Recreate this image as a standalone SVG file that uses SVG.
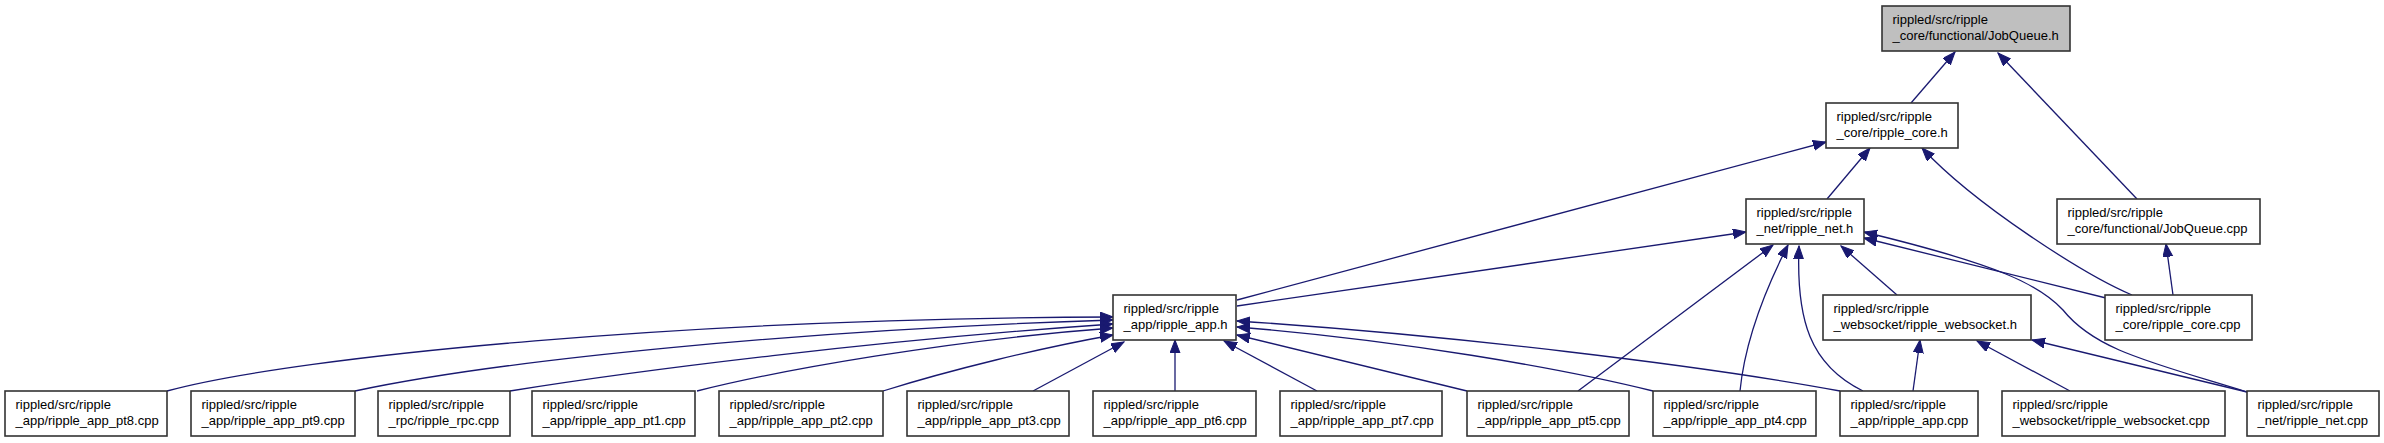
<svg xmlns="http://www.w3.org/2000/svg" width="2384" height="443" viewBox="0 0 2384 443">
<style>
rect.box{fill:#ffffff;stroke:#333333;stroke-width:1.6}
rect.hl{fill:#bfbfbf;stroke:#333333;stroke-width:1.6}
text{font-family:"Liberation Sans",Arial,Helvetica,sans-serif;font-size:13px;fill:#000}
.edges path{fill:none;stroke:#191970;stroke-width:1.3;marker-end:url(#ah)}
</style>
<defs>
<marker id="ah" markerUnits="userSpaceOnUse" markerWidth="14" markerHeight="11" refX="13" refY="5" orient="auto">
<path d="M0,0 L13,5 L0,10 z" fill="#191970" stroke="#191970" stroke-width="1"/>
</marker>
</defs>
<rect width="2384" height="443" fill="#ffffff"/>
<g class="edges" id="edges">
<path d="M1911,103 L1955,52"/>
<path d="M2137,199 L1998,53"/>
<path d="M1237,300 L1826,142"/>
<path d="M1827,199 L1870,148"/>
<path d="M2132,295 C2085,275 1975,205 1922,148"/>
<path d="M1237,306 L1746,232"/>
<path d="M1578,391 L1773,245"/>
<path d="M1740,391 C1745,340 1765,290 1788,245"/>
<path d="M1863,391 C1810,365 1796,320 1799,246"/>
<path d="M1897,295 L1841,246"/>
<path d="M2106,298 L1864,238"/>
<path d="M2247,392 C2150,362 2095,350 2063,310 C2040,285 2000,265 1864,232"/>
<path d="M2173,295 L2166,244"/>
<path d="M1913,391 L1920,340"/>
<path d="M2070,391 L1977,341"/>
<path d="M2247,392 L2032,340"/>
<path d="M167,391 C300,355 700,318 1113,317"/>
<path d="M355,391 C500,360 800,330 1113,320"/>
<path d="M510,391 C640,370 880,340 1113,324"/>
<path d="M697,391 C780,370 950,340 1113,328"/>
<path d="M883,391 C950,370 1040,348 1113,335"/>
<path d="M1033,391 L1124,342"/>
<path d="M1175,391 L1175,340"/>
<path d="M1317,391 L1224,341"/>
<path d="M1467,391 L1237,335"/>
<path d="M1653,391 C1560,368 1400,340 1237,327"/>
<path d="M1840,391 C1700,365 1450,335 1237,321"/>
</g>
<g id="n_jobqueue_h"><rect class="hl" x="1882" y="6" width="188" height="45"/><text x="1892.5" y="23.5">rippled/src/ripple</text><text x="1892.5" y="40">_core/functional/JobQueue.h</text></g>
<g id="n_ripple_core_h"><rect class="box" x="1826" y="103" width="132" height="45"/><text x="1836.5" y="120.5">rippled/src/ripple</text><text x="1836.5" y="137">_core/ripple_core.h</text></g>
<g id="n_ripple_net_h"><rect class="box" x="1746" y="199" width="118" height="45"/><text x="1756.5" y="216.5">rippled/src/ripple</text><text x="1756.5" y="233">_net/ripple_net.h</text></g>
<g id="n_jobqueue_cpp"><rect class="box" x="2057" y="199" width="203" height="45"/><text x="2067.5" y="216.5">rippled/src/ripple</text><text x="2067.5" y="233">_core/functional/JobQueue.cpp</text></g>
<g id="n_ripple_app_h"><rect class="box" x="1113" y="295" width="123" height="45"/><text x="1123.5" y="312.5">rippled/src/ripple</text><text x="1123.5" y="329">_app/ripple_app.h</text></g>
<g id="n_ripple_websocket_h"><rect class="box" x="1823" y="295" width="208" height="45"/><text x="1833.5" y="312.5">rippled/src/ripple</text><text x="1833.5" y="329">_websocket/ripple_websocket.h</text></g>
<g id="n_ripple_core_cpp"><rect class="box" x="2105" y="295" width="147" height="45"/><text x="2115.5" y="312.5">rippled/src/ripple</text><text x="2115.5" y="329">_core/ripple_core.cpp</text></g>
<g id="n_pt8"><rect class="box" x="5" y="391" width="162" height="45"/><text x="15.5" y="408.5">rippled/src/ripple</text><text x="15.5" y="425">_app/ripple_app_pt8.cpp</text></g>
<g id="n_pt9"><rect class="box" x="191" y="391" width="164" height="45"/><text x="201.5" y="408.5">rippled/src/ripple</text><text x="201.5" y="425">_app/ripple_app_pt9.cpp</text></g>
<g id="n_rpc"><rect class="box" x="378" y="391" width="132" height="45"/><text x="388.5" y="408.5">rippled/src/ripple</text><text x="388.5" y="425">_rpc/ripple_rpc.cpp</text></g>
<g id="n_pt1"><rect class="box" x="532" y="391" width="163" height="45"/><text x="542.5" y="408.5">rippled/src/ripple</text><text x="542.5" y="425">_app/ripple_app_pt1.cpp</text></g>
<g id="n_pt2"><rect class="box" x="719" y="391" width="164" height="45"/><text x="729.5" y="408.5">rippled/src/ripple</text><text x="729.5" y="425">_app/ripple_app_pt2.cpp</text></g>
<g id="n_pt3"><rect class="box" x="907" y="391" width="162" height="45"/><text x="917.5" y="408.5">rippled/src/ripple</text><text x="917.5" y="425">_app/ripple_app_pt3.cpp</text></g>
<g id="n_pt6"><rect class="box" x="1093" y="391" width="163" height="45"/><text x="1103.5" y="408.5">rippled/src/ripple</text><text x="1103.5" y="425">_app/ripple_app_pt6.cpp</text></g>
<g id="n_pt7"><rect class="box" x="1280" y="391" width="162" height="45"/><text x="1290.5" y="408.5">rippled/src/ripple</text><text x="1290.5" y="425">_app/ripple_app_pt7.cpp</text></g>
<g id="n_pt5"><rect class="box" x="1467" y="391" width="162" height="45"/><text x="1477.5" y="408.5">rippled/src/ripple</text><text x="1477.5" y="425">_app/ripple_app_pt5.cpp</text></g>
<g id="n_pt4"><rect class="box" x="1653" y="391" width="163" height="45"/><text x="1663.5" y="408.5">rippled/src/ripple</text><text x="1663.5" y="425">_app/ripple_app_pt4.cpp</text></g>
<g id="n_ripple_app_cpp"><rect class="box" x="1840" y="391" width="138" height="45"/><text x="1850.5" y="408.5">rippled/src/ripple</text><text x="1850.5" y="425">_app/ripple_app.cpp</text></g>
<g id="n_ripple_websocket_cpp"><rect class="box" x="2002" y="391" width="223" height="45"/><text x="2012.5" y="408.5">rippled/src/ripple</text><text x="2012.5" y="425">_websocket/ripple_websocket.cpp</text></g>
<g id="n_ripple_net_cpp"><rect class="box" x="2247" y="391" width="132" height="45"/><text x="2257.5" y="408.5">rippled/src/ripple</text><text x="2257.5" y="425">_net/ripple_net.cpp</text></g>
</svg>
